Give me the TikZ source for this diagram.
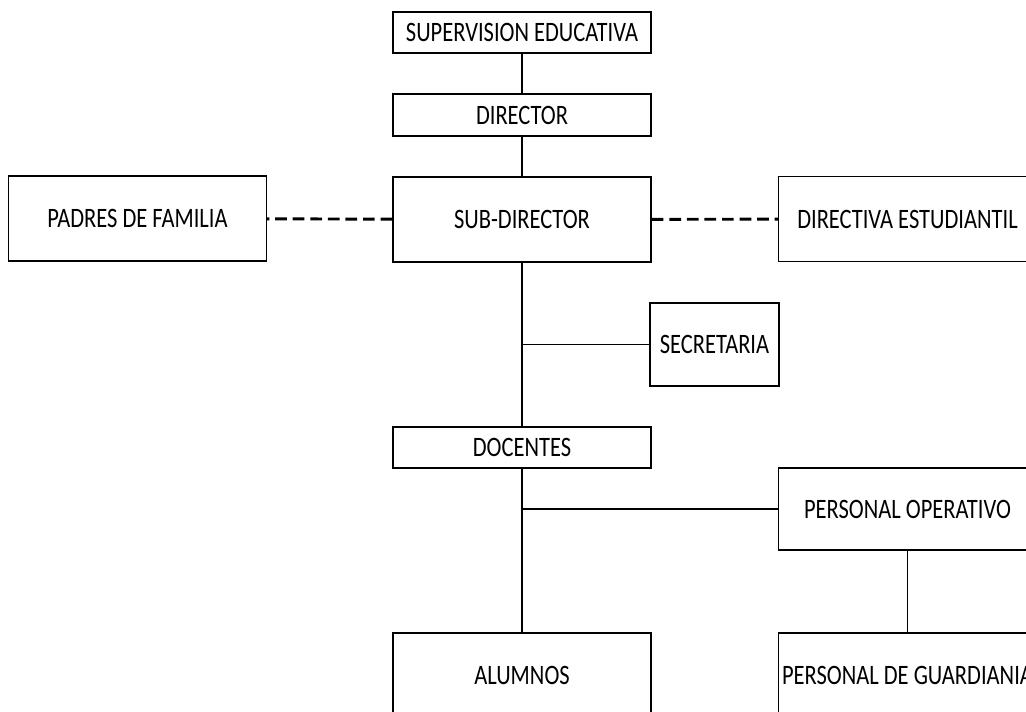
\documentclass[tikz,border=0pt]{standalone}
\usepackage{fontspec}
\setmainfont{Carlito}[FakeStretch=0.8]
\usepackage{tikz}
\usetikzlibrary{positioning,calc}
\tikzset{
    % box of the chart
    caja/.style={
           draw,
           rectangle,
           line width=1.2pt,
           inner sep=0pt,
           minimum width=7.74cm,
           font=\fontsize{24}{28}\selectfont},
    % plain link
    linea/.style={line width=1.2pt},
    % dashed link
    enlace/.style={line width=2.5pt, dash pattern=on 10pt off 5pt}
}
\begin{document}
\begin{tikzpicture}[x=0.03cm, y=-0.03cm]

% frame of the picture
\useasboundingbox (0,0) rectangle (1026,712);
\clip (0,0) rectangle (1026,712);

% central column
\node [caja, minimum height=1.23cm] (sup) at (522, 32.5) {SUPERVISION EDUCATIVA};
\node [caja, minimum height=1.26cm] (dir) at (522, 115) {DIRECTOR};
\node [caja, minimum height=2.55cm] (sub) at (522, 219.5) {SUB-DIRECTOR};
\node [caja, minimum height=1.23cm] (doc) at (522, 447.5) {DOCENTES};
\node [caja, minimum height=2.55cm] (alu) at (522, 675.5) {ALUMNOS};

% side boxes
\node [caja, minimum height=2.55cm] (pad) at (137.5, 218.5) {PADRES DE FAMILIA};
\node [caja, minimum height=2.55cm] (des) at (907.5, 219) {DIRECTIVA ESTUDIANTIL};
\node [caja, minimum width=3.87cm, minimum height=2.49cm] (sec) at (714.5, 344.5) {SECRETARIA};
\node [caja, minimum height=2.46cm] (pop) at (907.5, 509) {PERSONAL OPERATIVO};
\node [caja, minimum height=2.55cm] (pgu) at (907.5, 675.5) {PERSONAL DE GUARDIANIA};

% junctions
\coordinate (jsec) at (sub.south |- sec.west);
\coordinate (jpop) at (doc.south |- pop.west);

% links
\draw [linea] (sup) -- (dir);
\draw [linea] (dir) -- (sub);
\draw [linea] (sub) -- (doc);
\draw [linea] (jsec) -- (sec);
\draw [linea] (doc) -- (alu);
\draw [linea] (jpop) -- (pop);
\draw [linea] (pop) -- (pgu);
\draw [enlace] (sub) -- (pad);
\draw [enlace] (sub) -- (des);

\end{tikzpicture}
\end{document}
